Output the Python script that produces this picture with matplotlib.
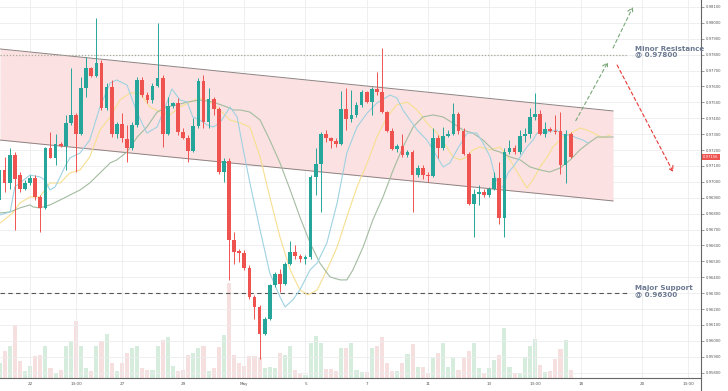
import numpy as np
import matplotlib
matplotlib.use("Agg")
import matplotlib.pyplot as plt
from matplotlib.transforms import blended_transform_factory

# ---------------- data (prices in 1e-5 units) ----------------
opens = [96885, 97074, 96990, 97168, 97042, 96958, 96990, 97027, 96905, 96838,
         97214, 97151, 97241, 97225, 97372, 97420, 97300, 97592, 97718, 97666,
         97745, 97462, 97598, 97298, 97367, 97269, 97210, 97357, 97640, 97546,
         97514, 97603, 97651, 97304, 97479, 97493, 97311, 97277, 97193, 97353,
         97636, 97378, 97521, 97458, 97063, 97132, 96632, 96563, 96555, 96458,
         96275, 96212, 96044, 96135, 96349, 96422, 96359, 96485, 96559, 96534,
         96513, 96527, 97031, 97115, 97304, 97273, 97256, 97235, 97456, 97395,
         97420, 97483, 97563, 97504, 97584, 97563, 97437, 97319, 97206, 97227,
         97168, 97185, 97046, 97088, 97046, 97038, 97277, 97210, 97290, 97304,
         97426, 97319, 97178, 96863, 96926, 96937, 96916, 96954, 97027, 96775,
         97189, 97216, 97189, 97290, 97304, 97405, 97426, 97304, 97330, 97321,
         97321, 97105, 97304]
highs = [97126, 97158, 97210, 97189, 97063, 97010, 97042, 97042, 96916, 97220,
         97315, 97304, 97252, 97420, 97714, 97430, 97661, 97787, 97724, 98029,
         97766, 97619, 97640, 97378, 97430, 97357, 97378, 97661, 97661, 97567,
         97619, 97997, 97672, 97535, 97500, 97525, 97336, 97294, 97399, 97651,
         97672, 97588, 97535, 97472, 97147, 97147, 96685, 96580, 96569, 96475,
         96286, 96223, 96149, 96359, 96433, 96454, 96496, 96626, 96605, 96548,
         96538, 97042, 97210, 97315, 97325, 97283, 97273, 97571, 97588, 97577,
         97504, 97577, 97571, 97598, 97693, 97840, 97445, 97336, 97235, 97304,
         97199, 97199, 97105, 97105, 97063, 97336, 97294, 97346, 97325, 97493,
         97441, 97336, 97189, 96958, 96979, 96958, 96968, 97063, 97126, 97210,
         97262, 97231, 97325, 97336, 97462, 97556, 97451, 97378, 97346, 97420,
         97441, 97325, 97315]
lows = [96853, 96937, 96958, 96696, 96937, 96947, 96979, 96884, 96685, 96832,
        97147, 97105, 97220, 97074, 97357, 97063, 97294, 97535, 97661, 97661,
        97451, 97451, 97283, 97273, 97252, 97126, 97199, 97346, 97535, 97493,
        97493, 97598, 97220, 97294, 97462, 97294, 97269, 97126, 97185, 97336,
        97336, 97336, 97420, 97052, 97000, 96380, 96485, 96496, 96443, 96265,
        96139, 95887, 96034, 96128, 96338, 96307, 96349, 96475, 96517, 96496,
        96485, 96517, 96916, 96811, 97252, 97210, 97220, 97231, 97325, 97378,
        97409, 97472, 97493, 97420, 97546, 97430, 97311, 97199, 97189, 97158,
        97158, 96811, 97031, 97021, 97000, 97031, 97147, 97199, 97283, 97294,
        97304, 97168, 96853, 96654, 96853, 96905, 96905, 96947, 96737, 96654,
        97178, 97178, 97178, 97252, 97273, 97388, 97294, 97283, 97311, 97300,
        97052, 96990, 97147]
closes = [97074, 96990, 97168, 97021, 96958, 96990, 97027, 96905, 96838, 97214,
          97151, 97241, 97225, 97372, 97420, 97300, 97592, 97718, 97666, 97745,
          97462, 97598, 97298, 97367, 97273, 97210, 97357, 97640, 97546, 97514,
          97603, 97651, 97304, 97479, 97493, 97311, 97277, 97193, 97353, 97636,
          97378, 97521, 97458, 97063, 97132, 96632, 96559, 96555, 96458, 96275,
          96212, 96044, 96135, 96349, 96422, 96359, 96485, 96559, 96534, 96513,
          96527, 97031, 97115, 97304, 97273, 97256, 97235, 97456, 97395, 97420,
          97483, 97563, 97504, 97584, 97563, 97437, 97319, 97206, 97227, 97168,
          97185, 97046, 97088, 97042, 97038, 97277, 97210, 97290, 97304, 97426,
          97319, 97178, 96863, 96926, 96937, 96916, 96954, 97027, 96775, 97189,
          97216, 97189, 97290, 97304, 97405, 97426, 97304, 97330, 97321, 97315,
          97105, 97304, 97156]
volumes = [15, 27, 32, 53, 17, 7, 12, 22, 23, 32, 10, 5, 8, 32, 37, 57, 32, 10, 7, 32,
           37, 44, 15, 7, 15, 25, 30, 32, 10, 8, 8, 32, 38, 41, 12, 7, 8, 23, 25, 30,
           32, 7, 10, 31, 43, 95, 23, 15, 12, 22, 22, 20, 10, 11, 10, 25, 23, 32, 8, 4,
           3, 35, 42, 35, 9, 9, 7, 30, 30, 35, 8, 6, 6, 30, 32, 41, 15, 7, 7, 15,
           24, 34, 11, 11, 5, 20, 25, 35, 11, 20, 8, 20, 27, 35, 10, 5, 10, 18, 23, 50,
           11, 5, 5, 21, 32, 39, 13, 6, 7, 19, 29, 38, 8]

# moving-average style lines (bar index, price*1e5)
ma_blue_x = [0.1, 2.1, 3.0, 4.0, 6.0, 7.9, 8.9, 9.9, 10.9, 11.9, 12.8, 13.8, 15.8, 17.7, 19.7,
             21.7, 23.0, 25.0, 27.0, 28.9, 30.9, 32.8, 33.8, 35.4, 36.8, 37.9, 39.3, 40.7, 41.9,
             43.2, 45.2, 46.6, 47.7, 49.1, 51.1, 53.0, 55.0, 56.0, 57.5, 58.9, 60.9, 62.3, 64.2,
             66.2, 68.1, 70.1, 72.1, 74.0, 76.6, 77.9, 79.1, 80.5, 81.9, 83.8, 85.0, 87.0, 88.3,
             89.7, 91.7, 93.6, 94.8, 96.2, 97.2, 98.1, 98.7, 99.7, 100.7, 102.1, 103.4, 104.6,
             105.4, 107.4, 109.3, 110.5, 111.9, 113.2, 114.4, 115.4]
ma_blue_y = [96792, 96811, 96968, 96993, 97043, 97031, 97012, 96949, 96968, 97031, 97094, 97150,
             97182, 97263, 97471, 97622, 97641, 97609, 97433, 97307, 97345, 97496, 97584, 97515,
             97502, 97408, 97389, 97358, 97345, 97370, 97471, 97408, 97219, 96993, 96697, 96427,
             96276, 96213, 96257, 96320, 96446, 96490, 96616, 96867, 97182, 97345, 97433, 97496,
             97546, 97528, 97452, 97389, 97326, 97263, 97201, 97094, 97119, 97201, 97307, 97307,
             97245, 97157, 97031, 96968, 96968, 97056, 97094, 97157, 97219, 97263, 97307, 97314,
             97326, 97295, 97295, 97276, 97263, 97245]
ma_yellow_x = [0.1, 2.6, 4.0, 6.0, 7.9, 9.9, 11.9, 13.8, 15.8, 17.7, 19.7, 21.7, 23.6, 25.6, 27.5,
               29.5, 31.5, 33.4, 35.4, 37.4, 39.3, 41.3, 43.2, 45.2, 47.2, 49.1, 51.1, 53.0, 55.0,
               57.0, 58.9, 60.5, 62.3, 64.2, 66.2, 68.1, 70.1, 72.1, 74.0, 76.0, 77.9, 79.9, 81.9,
               83.8, 85.8, 87.7, 88.9, 90.3, 91.7, 92.8, 94.2, 96.2, 98.1, 100.1, 102.1, 103.4,
               104.6, 106.0, 107.4, 108.5, 110.5, 112.5, 113.8, 115.2, 117.2, 118.3, 119.7]
ma_yellow_y = [96741, 96804, 96867, 96905, 96905, 96993, 96993, 97056, 97075, 97157, 97326, 97408,
               97515, 97559, 97559, 97471, 97439, 97421, 97471, 97502, 97528, 97502, 97452, 97389,
               97370, 97345, 97157, 96905, 96653, 96446, 96320, 96289, 96320, 96446, 96590, 96779,
               96968, 97119, 97282, 97408, 97484, 97502, 97452, 97370, 97307, 97219, 97157, 97138,
               97157, 97201, 97219, 97201, 97219, 97138, 97031, 96961, 97012, 97094, 97157, 97219,
               97282, 97314, 97339, 97326, 97295, 97276, 97295]
ma_green_x = [0.1, 2.1, 4.0, 6.0, 6.6, 7.9, 9.9, 11.9, 13.8, 15.8, 17.7, 19.7, 21.7, 23.0, 25.0,
              27.0, 28.9, 30.9, 32.8, 34.8, 36.8, 39.3, 41.9, 44.6, 45.8, 47.2, 49.1, 51.1, 53.0,
              55.0, 57.0, 58.9, 60.9, 62.8, 64.8, 66.8, 68.1, 69.3, 71.3, 73.2, 75.2, 77.2, 79.1,
              81.1, 83.0, 85.0, 87.0, 88.9, 90.9, 92.8, 94.8, 96.8, 98.1, 100.1, 102.1, 104.0,
              106.0, 107.9, 109.9, 111.9, 113.8, 115.8, 117.2, 120.3]
ma_green_y = [96804, 96811, 96836, 96855, 96842, 96836, 96855, 96886, 96917, 96949, 96993, 97056,
              97119, 97138, 97188, 97282, 97345, 97439, 97471, 97484, 97502, 97515, 97502, 97471,
              97452, 97452, 97439, 97389, 97263, 97119, 96949, 96779, 96616, 96490, 96402, 96383,
              96383, 96446, 96590, 96760, 96905, 97075, 97219, 97345, 97408, 97421, 97408, 97370,
              97326, 97307, 97263, 97201, 97188, 97157, 97138, 97094, 97075, 97062, 97087, 97138,
              97201, 97251, 97282, 97282]

# channel, levels and projection arrows
channel_x = [0.1, 120.3]
channel_upper = [0.97836, 0.97446]
channel_lower = [0.97263, 0.96880]
resistance = 0.97800
support = 0.96300
level_end_x = 123.2
arrow_up1 = [(113.0, 0.97385), (119.3, 0.97754)]
arrow_up2 = [(120.3, 0.97842), (124.2, 0.98100)]
arrow_down = [(121.1, 0.97735), (132.1, 0.97062)]
last_price = 0.97156

xtick_pos = [6, 15, 24, 36, 48, 60, 72, 84, 96, 105, 114, 126, 135]
xtick_labels = ["22", "13:00", "27", "29", "May", "5", "7", "11", "13", "13:00", "18", "20", "13:00"]
ytick_vals = [0.958 + 0.001 * k for k in range(24)]

# ---------------- figure ----------------
W, H = 728, 391
fig = plt.figure(figsize=(W / 100, H / 100), dpi=100)
pos = [0, 13 / H, 701 / W, 378 / H]
axv = fig.add_axes(pos)
ax = fig.add_axes(pos, facecolor="none")

xlim = (0.1, 137.55)
ylim = (0.95766, 0.98144)

o = np.array(opens) / 1e5
h = np.array(highs) / 1e5
l = np.array(lows) / 1e5
c = np.array(closes) / 1e5
idx = np.arange(len(o))
up = c >= o

GREEN = "#26a69a"
RED = "#ef5350"

# volume
axv.set_xlim(*xlim)
axv.set_ylim(0, 378)
vcol = np.where(up, "#d6ecdc", "#f6dfdf")
axv.bar(idx, volumes, width=0.8, color=vcol, edgecolor="none", zorder=2)
axv.axis("off")

# grid
ax.set_xlim(*xlim)
ax.set_ylim(*ylim)
ax.set_yticks(ytick_vals)
ax.set_xticks(xtick_pos)
ax.set_xticklabels(xtick_labels)
ax.grid(True, color="#ececf0", lw=0.6, zorder=0)
ax.set_axisbelow(True)

# channel
ax.fill_between(channel_x, channel_lower, channel_upper, color="#fbe1e1", zorder=1, lw=0)
ax.plot(channel_x, channel_upper, color="#8e8282", lw=0.7, zorder=2)
ax.plot(channel_x, channel_lower, color="#8e8282", lw=0.7, zorder=2)

# levels
ax.hlines(resistance, xlim[0], level_end_x, colors="#a8a898", linestyles=(0, (1, 1.5)), lw=0.9, zorder=2)
ax.hlines(support, xlim[0], level_end_x, colors="#555555", linestyles=(0, (4, 3)), lw=0.8, zorder=2)

# MA lines
ax.plot(ma_yellow_x, np.array(ma_yellow_y) / 1e5, color="#f7df90", lw=0.8, zorder=3)
ax.plot(ma_green_x, np.array(ma_green_y) / 1e5, color="#a3bca0", lw=0.8, zorder=3)
ax.plot(ma_blue_x, np.array(ma_blue_y) / 1e5, color="#9fd2e2", lw=0.8, zorder=3)

# candles
colors = np.where(up, GREEN, RED)
ax.vlines(idx, l, h, colors=colors, lw=0.7, zorder=4)
body_bottom = np.minimum(o, c)
body_h = np.maximum(np.abs(c - o), 0.000025)
ax.bar(idx, body_h, bottom=body_bottom, width=0.72, color=colors, edgecolor="none", zorder=5)

# arrows
for (start, end), col in [(arrow_up1, "#7aa87a"), (arrow_up2, "#7aa87a"), (arrow_down, "#e53935")]:
    ax.annotate("", xy=end, xytext=start,
                arrowprops=dict(arrowstyle="->,head_length=0.35,head_width=0.2", color=col,
                                lw=0.8, linestyle=(0, (3, 2.5)), shrinkA=0, shrinkB=0),
                zorder=6)

# texts
ax.text(124.6, 0.97820, "Minor Resistance\n@ 0.97800", fontsize=5.1, fontweight="bold",
        color="#6b7990", va="center", ha="left", linespacing=1.0, zorder=7)
ax.text(124.6, 0.96314, "Major Support\n@ 0.96300", fontsize=5.1, fontweight="bold",
        color="#6b7990", va="center", ha="left", linespacing=1.0, zorder=7)

# axes styling
for s in ["top", "left"]:
    ax.spines[s].set_visible(False)
ax.spines["right"].set_color("#666666")
ax.spines["bottom"].set_color("#666666")
ax.spines["right"].set_linewidth(0.8)
ax.spines["bottom"].set_linewidth(0.8)
ax.yaxis.tick_right()
ax.yaxis.set_major_formatter(matplotlib.ticker.FuncFormatter(lambda v, p: f"{v:.5f}"))
ax.tick_params(axis="y", labelsize=2.7, colors="#555555", length=2, width=0.4, pad=1.5)
ax.tick_params(axis="x", labelsize=3.0, colors="#555555", length=0, pad=3)

# last price tag
tr = blended_transform_factory(ax.transAxes, ax.transData)
ax.text(1.003, last_price, f"{last_price:.5f}", transform=tr, fontsize=2.7, color="white",
        va="center", ha="left", zorder=10,
        bbox=dict(boxstyle="square,pad=0.35", fc=RED, ec="none"))

# axis line continuing below the plot
fig.add_artist(plt.Line2D([701 / W, 701 / W], [0, 13 / H], color="#666666", lw=0.8))

fig.savefig("out.png", dpi=100, facecolor="white")
